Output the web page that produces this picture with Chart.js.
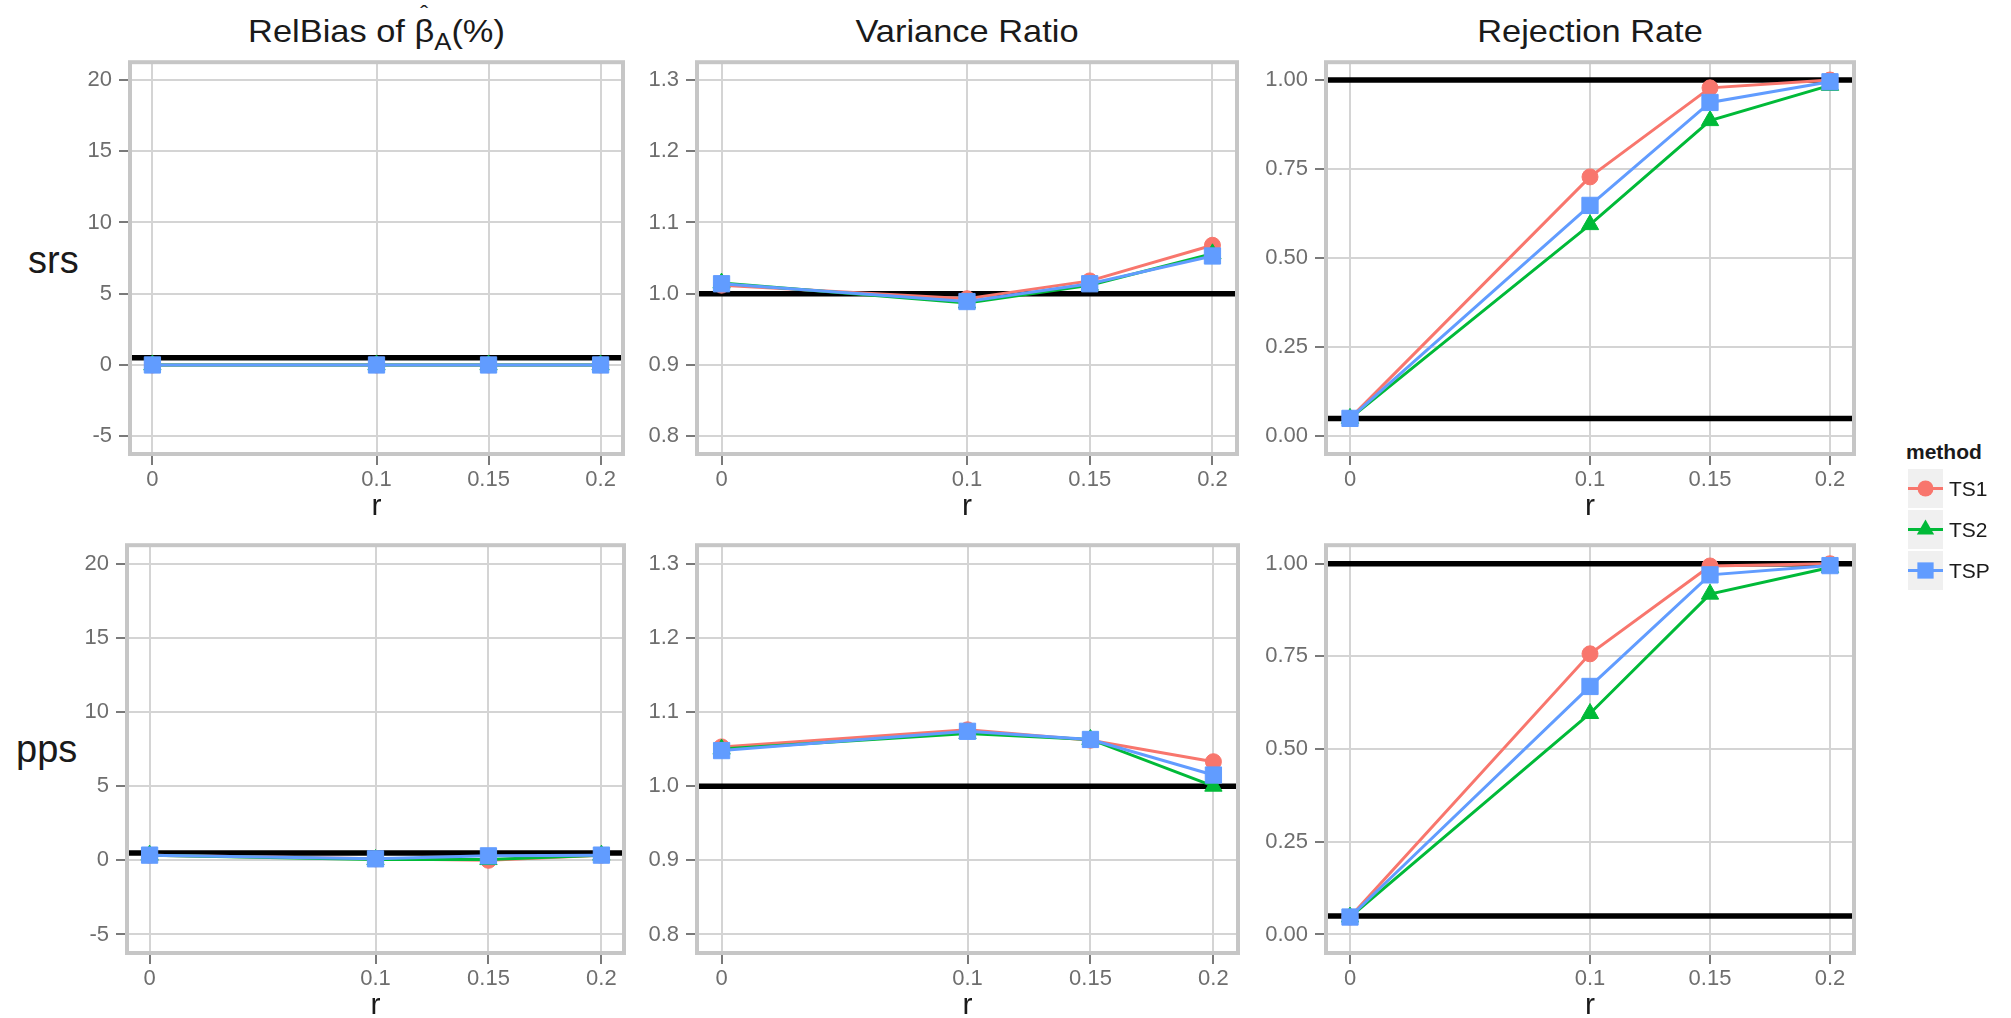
<!DOCTYPE html>
<html>
<head>
<meta charset="utf-8">
<script src="https://cdn.jsdelivr.net/npm/chart.js"></script>
<style>
  html, body { margin: 0; padding: 0; background: #ffffff; }
  body { width: 2011px; height: 1018px; position: relative; overflow: hidden;
         font-family: "Liberation Sans", Arial, Helvetica, sans-serif; }
  canvas.panel, canvas.legend { position: absolute; }
  .ptitle { position: absolute; top: 15px; height: 40px; font-size: 32px; line-height: 32px;
            text-align: center; color: #1a1a1a; white-space: nowrap; transform: scaleX(1.075); transform-origin: 50% 50%; }
  .rowlab { position: absolute; font-size: 38px; line-height: 38px; color: #1a1a1a; white-space: nowrap; }
  .beta { position: relative; display: inline-block; }
  .hat { position: absolute; left: 0; width: 100%; text-align: center; top: -12px; font-size: 22px; line-height: 22px; }
  sub { font-size: 24px; line-height: 0; vertical-align: -8px; }
  .legtitle { position: absolute; left: 1906px; top: 441px; font-size: 21px; line-height: 21px; font-weight: bold; color: #1a1a1a; }
  .leglab { position: absolute; left: 1949px; font-size: 21px; line-height: 21px; color: #1a1a1a; }
</style>
</head>
<body>

<div class="ptitle" style="left:130px;width:493px;">RelBias of <span class="beta">β<span class="hat">ˆ</span></span><sub>A</sub>(%)</div>
<div class="ptitle" style="left:697px;width:540px;">Variance Ratio</div>
<div class="ptitle" style="left:1326px;width:528px;">Rejection Rate</div>

<div class="rowlab" id="rowlab0" style="left:28px;top:241px;">srs</div>
<div class="rowlab" id="rowlab1" style="left:16px;top:730px;">pps</div>

<canvas class="panel" id="c00"></canvas>
<canvas class="panel" id="c01"></canvas>
<canvas class="panel" id="c02"></canvas>
<canvas class="panel" id="c10"></canvas>
<canvas class="panel" id="c11"></canvas>
<canvas class="panel" id="c12"></canvas>

<div class="legtitle">method</div>
<canvas class="legend" id="legend" width="44" height="130" style="left:1906px;top:467px;"></canvas>
<div class="leglab" style="top:478px;">TS1</div>
<div class="leglab" style="top:519px;">TS2</div>
<div class="leglab" style="top:560px;">TSP</div>

<script>
// ---------------- DATA ----------------
const rValues = [0, 0.1, 0.15, 0.2];
const rTickLabels = ['0', '0.1', '0.15', '0.2'];
const methodNames = ['TS1', 'TS2', 'TSP'];
const designNames = ['srs', 'pps'];

const relBiasTicks = [-5, 0, 5, 10, 15, 20];
const relBiasTickLabels = ['-5', '0', '5', '10', '15', '20'];
const varRatioTicks = [0.8, 0.9, 1.0, 1.1, 1.2, 1.3];
const varRatioTickLabels = ['0.8', '0.9', '1.0', '1.1', '1.2', '1.3'];
const rejTicks = [0, 0.25, 0.5, 0.75, 1.0];
const rejTickLabels = ['0.00', '0.25', '0.50', '0.75', '1.00'];

const relBiasRefLines = [0.5];
const varRatioRefLines = [1.0];
const rejRefLines = [0.05, 1.0];

// srs design
const relBiasSrsTS1 = [0.0, 0.0, 0.0, 0.0];
const relBiasSrsTS2 = [0.0, 0.0, 0.0, 0.0];
const relBiasSrsTSP = [0.0, 0.0, 0.0, 0.0];
const varRatioSrsTS1 = [1.012, 0.993, 1.018, 1.068];
const varRatioSrsTS2 = [1.015, 0.987, 1.012, 1.056];
const varRatioSrsTSP = [1.014, 0.989, 1.014, 1.053];
const rejSrsTS1 = [0.05, 0.728, 0.978, 1.0];
const rejSrsTS2 = [0.05, 0.594, 0.886, 0.985];
const rejSrsTSP = [0.05, 0.648, 0.937, 0.995];

// pps design
const relBiasPpsTS1 = [0.35, 0.1, 0.0, 0.35];
const relBiasPpsTS2 = [0.35, 0.05, 0.05, 0.35];
const relBiasPpsTSP = [0.35, 0.1, 0.3, 0.35];
const varRatioPpsTS1 = [1.053, 1.076, 1.062, 1.033];
const varRatioPpsTS2 = [1.050, 1.071, 1.063, 1.000];
const varRatioPpsTSP = [1.048, 1.074, 1.063, 1.015];
const rejPpsTS1 = [0.047, 0.757, 0.994, 1.0];
const rejPpsTS2 = [0.047, 0.596, 0.918, 0.990];
const rejPpsTSP = [0.047, 0.669, 0.970, 0.995];

// ---------------- STYLE ----------------
const FONT = '"Liberation Sans", Arial, Helvetica, sans-serif';
const methodColors = ['#F8766D', '#00BA38', '#619CFF'];
const methodShapes = ['circle', 'triangle', 'rect'];
const methodRadii = [8, 10, 11.5];

Chart.defaults.font.family = FONT;
Chart.defaults.devicePixelRatio = 1;

function expand(lo, hi) { const d = (hi - lo) * 0.05; return [lo - d, hi + d]; }

const YW = 90, PT = 20, PR = 24, XH = 71;

// plot rectangles [left, top, right, bottom]
const panelBoxes = {
  c00: [130, 62, 623, 454], c01: [697, 62, 1237, 454], c02: [1326, 62, 1854, 454],
  c10: [127, 545, 624, 953], c11: [697, 545, 1238, 953], c12: [1326, 545, 1854, 953]
};

const panelPlugin = {
  id: 'panelDeco',
  beforeDatasetsDraw(chart, args, opts) {
    const { ctx, chartArea: a } = chart;
    const y = chart.scales.y;
    ctx.save();
    ctx.beginPath();
    ctx.rect(a.left, a.top, a.right - a.left, a.bottom - a.top);
    ctx.clip();
    ctx.strokeStyle = '#000000';
    ctx.lineWidth = 5.5;
    (opts.values || []).forEach(v => {
      const py = y.getPixelForValue(v);
      ctx.beginPath();
      ctx.moveTo(a.left, py);
      ctx.lineTo(a.right, py);
      ctx.stroke();
    });
    ctx.restore();
  },
  afterDraw(chart) {
    const { ctx, chartArea: a } = chart;
    ctx.save();
    ctx.strokeStyle = '#c6c6c6';
    ctx.lineWidth = 4;
    ctx.strokeRect(a.left, a.top, a.right - a.left, a.bottom - a.top);
    ctx.restore();
  }
};

function makePanel(id, series, yTicks, yLabels, refLines) {
  const [L, T, R, B] = panelBoxes[id];
  const cv = document.getElementById(id);
  const w = (R - L) + YW + PR, h = (B - T) + PT + XH;
  cv.width = w; cv.height = h;
  cv.style.left = (L - YW) + 'px';
  cv.style.top = (T - PT) + 'px';
  cv.style.width = w + 'px';
  cv.style.height = h + 'px';
  const [xMin, xMax] = expand(rValues[0], rValues[rValues.length - 1]);
  const [yMin, yMax] = expand(yTicks[0], yTicks[yTicks.length - 1]);
  const order = [3, 2, 1];
  const datasets = series.map((vals, i) => ({
    label: methodNames[i],
    data: rValues.map((r, k) => ({ x: r, y: vals[k] })),
    borderColor: methodColors[i],
    backgroundColor: methodColors[i],
    borderWidth: 3,
    pointStyle: methodShapes[i],
    pointRadius: methodRadii[i],
    pointHoverRadius: methodRadii[i],
    pointBackgroundColor: methodColors[i],
    pointBorderColor: methodColors[i],
    pointBorderWidth: 1,
    tension: 0,
    order: order[i],
    clip: false
  }));
  const gridCfg = { color: '#d4d4d4', lineWidth: 2, tickColor: '#7a7a7a', tickWidth: 2, tickLength: 11, drawTicks: true };
  return new Chart(cv, {
    type: 'line',
    data: { datasets },
    options: {
      responsive: false,
      animation: false,
      devicePixelRatio: 1,
      layout: { padding: { left: 0, top: PT, right: PR, bottom: 0 } },
      plugins: { legend: { display: false }, tooltip: { enabled: false }, panelDeco: { values: refLines } },
      scales: {
        x: {
          type: 'linear', min: xMin, max: xMax,
          afterBuildTicks: s => { s.ticks = rValues.map(v => ({ value: v })); },
          afterFit: s => { s.height = XH; },
          ticks: { callback: (v, i) => rTickLabels[i], color: '#6e6e6e', font: { size: 22 }, padding: 2, maxRotation: 0, autoSkip: false },
          grid: gridCfg,
          border: { display: false },
          title: { display: true, text: 'r', color: '#1a1a1a', font: { size: 30 }, padding: { top: 0, bottom: 0 } }
        },
        y: {
          type: 'linear', min: yMin, max: yMax,
          afterBuildTicks: s => { s.ticks = yTicks.map(v => ({ value: v })); },
          afterFit: s => { s.width = YW; },
          ticks: { callback: (v, i) => yLabels[i], color: '#6e6e6e', font: { size: 22 }, padding: 7, autoSkip: false },
          grid: gridCfg,
          border: { display: false }
        }
      }
    },
    plugins: [panelPlugin]
  });
}

makePanel('c00', [relBiasSrsTS1, relBiasSrsTS2, relBiasSrsTSP], relBiasTicks, relBiasTickLabels, relBiasRefLines);
makePanel('c01', [varRatioSrsTS1, varRatioSrsTS2, varRatioSrsTSP], varRatioTicks, varRatioTickLabels, varRatioRefLines);
makePanel('c02', [rejSrsTS1, rejSrsTS2, rejSrsTSP], rejTicks, rejTickLabels, rejRefLines);
makePanel('c10', [relBiasPpsTS1, relBiasPpsTS2, relBiasPpsTSP], relBiasTicks, relBiasTickLabels, relBiasRefLines);
makePanel('c11', [varRatioPpsTS1, varRatioPpsTS2, varRatioPpsTSP], varRatioTicks, varRatioTickLabels, varRatioRefLines);
makePanel('c12', [rejPpsTS1, rejPpsTS2, rejPpsTSP], rejTicks, rejTickLabels, rejRefLines);

// ---------------- LEGEND KEYS ----------------
(function drawLegend() {
  const cv = document.getElementById('legend');
  const ctx = cv.getContext('2d');
  const boxX = 2, boxW = 35, boxH = 39, stride = 41;
  methodNames.forEach((name, i) => {
    const top = 2 + i * stride;
    const cy = top + boxH / 2;
    const cx = boxX + boxW / 2;
    ctx.fillStyle = '#f0f0f0';
    ctx.fillRect(boxX, top, boxW, boxH);
    ctx.strokeStyle = methodColors[i];
    ctx.lineWidth = 3;
    ctx.beginPath();
    ctx.moveTo(boxX, cy);
    ctx.lineTo(boxX + boxW, cy);
    ctx.stroke();
    ctx.fillStyle = methodColors[i];
    const r = methodRadii[i];
    ctx.beginPath();
    if (methodShapes[i] === 'circle') {
      ctx.arc(cx, cy, r, 0, Math.PI * 2);
    } else if (methodShapes[i] === 'triangle') {
      for (let k = 0; k < 3; k++) {
        const a = k * 2 * Math.PI / 3;
        const px = cx + Math.sin(a) * r, py = cy - Math.cos(a) * r;
        if (k === 0) ctx.moveTo(px, py); else ctx.lineTo(px, py);
      }
      ctx.closePath();
    } else {
      const s = Math.SQRT1_2 * r;
      ctx.rect(cx - s, cy - s, 2 * s, 2 * s);
    }
    ctx.fill();
  });
})();
</script>
</body>
</html>
